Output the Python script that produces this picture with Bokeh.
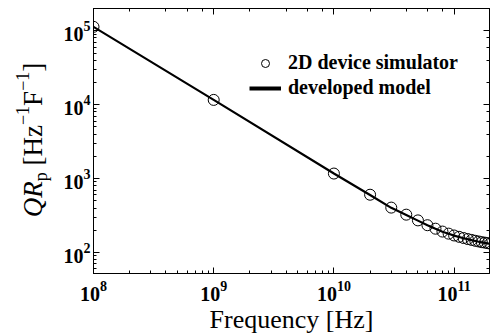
from bokeh.plotting import figure
from bokeh.layouts import row
from bokeh.models import (LogAxis, Range1d, Legend, LegendItem, Div,
                          LogTicker, CustomJSTickFormatter)
from bokeh.embed import file_html
from bokeh.resources import INLINE

# ---- data ----
sim_freq = [1e8, 1e9, 1e10, 2e10, 3e10, 4e10, 5e10, 6e10, 7e10, 8e10, 9e10,
            1e11, 1.1e11, 1.2e11, 1.3e11, 1.4e11, 1.5e11, 1.6e11, 1.7e11,
            1.8e11, 1.9e11, 2e11]
sim_qrp = [1.13e5, 1.16e4, 1170, 605, 405, 325, 272, 234, 210, 192, 180,
           170, 163, 157, 152, 148, 144, 141, 138, 136, 134, 132]
model_freq = [1e8, 1e9, 1e10, 2e10, 3e10, 4e10, 5e10, 6e10, 7e10, 8e10, 9e10,
              1e11, 1.2e11, 1.4e11, 1.6e11, 1.8e11, 2e11]
model_qrp = [1.13e5, 1.16e4, 1170, 600, 402, 322, 270, 233, 209, 191, 179,
             169, 156, 147, 140, 135, 131]
x_lim = [1e8, 1.97e11]
y_lim = [52, 2.0e5]
series_labels = ["2D device simulator", "developed model"]
x_title = "Frequency [Hz]"

SERIF = "Liberation Serif"
W, H = 491, 336
LW = 55            # width of the strip that carries the y-axis title
TOP, BOTTOM = 8, 63

p = figure(width=W - LW, height=H, x_axis_type="log", y_axis_type="log",
           x_range=Range1d(*x_lim), y_range=Range1d(*y_lim),
           output_backend="svg", toolbar_location=None,
           min_border_left=93 - LW, min_border_right=2, min_border_top=TOP,
           min_border_bottom=BOTTOM)
p.xgrid.visible = False
p.ygrid.visible = False
p.outline_line_color = "black"
p.outline_line_width = 1

r_line = p.line(model_freq, model_qrp, line_color="black", line_width=2.2)
r_sc = p.scatter(sim_freq, sim_qrp, marker="circle", size=11,
                 fill_color=None, line_color="black", line_width=1)
# legend-only proxy (a single-point line draws nothing in the plot) so the
# legend line can be drawn thicker, as in the original
r_leg = p.line(model_freq[:1], model_qrp[:1], line_color="black",
               line_width=4)


def style_axis(ax, labels=True):
    ax.major_tick_in = 6
    ax.major_tick_out = 0
    ax.minor_tick_in = 3
    ax.minor_tick_out = 0
    ax.axis_line_color = "black"
    ax.major_tick_line_color = "black"
    ax.minor_tick_line_color = "black"
    ax.major_label_text_font = SERIF
    ax.major_label_text_font_style = "bold"
    ax.major_label_text_font_size = "20px"
    ax.major_label_text_color = "black"
    if not labels:
        ax.formatter = CustomJSTickFormatter(code="return ''")
        ax.major_label_standoff = 0


xa = p.xaxis[0]
style_axis(xa)
xa.major_label_standoff = 7
xa.axis_label = x_title
xa.axis_label_text_font = SERIF
xa.axis_label_text_font_style = "normal"
xa.axis_label_text_font_size = "26px"
xa.axis_label_text_color = "black"
xa.axis_label_standoff = 1

ya = p.yaxis[0]
style_axis(ya)
ya.major_label_standoff = 3

top_ax = LogAxis(ticker=LogTicker())
style_axis(top_ax, labels=False)
p.add_layout(top_ax, "above")
right_ax = LogAxis(ticker=LogTicker())
style_axis(right_ax, labels=False)
p.add_layout(right_ax, "right")

# ---- legend ----
legend = Legend(items=[LegendItem(label=series_labels[0], renderers=[r_sc]),
                       LegendItem(label=series_labels[1], renderers=[r_leg])],
                location=(156, 174), orientation="vertical",
                label_text_font=SERIF, label_text_font_style="bold",
                label_text_font_size="20px", label_text_color="black",
                glyph_width=32, glyph_height=20, label_height=20,
                label_standoff=7, spacing=2, padding=0, margin=0,
                border_line_alpha=0, background_fill_alpha=0)
p.add_layout(legend, "center")

# ---- y-axis title: rich text (italic, sub/superscripts), rotated ----
sup = "font-size:18px;position:relative;top:-13px"
sub = "font-size:18px;position:relative;top:5px"
y_title = (f"<i>QR</i><span style='{sub}'>p</span> [Hz"
           f"<span style='{sup}'>\u22121</span>F"
           f"<span style='{sup}'>\u22121</span>]")
html = (f"<div style='position:relative;width:{LW}px;height:{H}px;"
        f"overflow:visible'>"
        f"<div style='position:absolute;left:19.5px;top:140px;"
        f"transform-origin:0 0;transform:rotate(-90deg) translateX(-50%);"
        f"white-space:nowrap;font-family:\"{SERIF}\";font-size:27px;"
        f"line-height:27px;color:black'>{y_title}</div></div>")
ytitle_div = Div(text=html, width=LW, height=H, margin=(0, 0, 0, 0))

layout = row(ytitle_div, p, spacing=0)
open("out.html", "w").write(file_html(layout, INLINE))
